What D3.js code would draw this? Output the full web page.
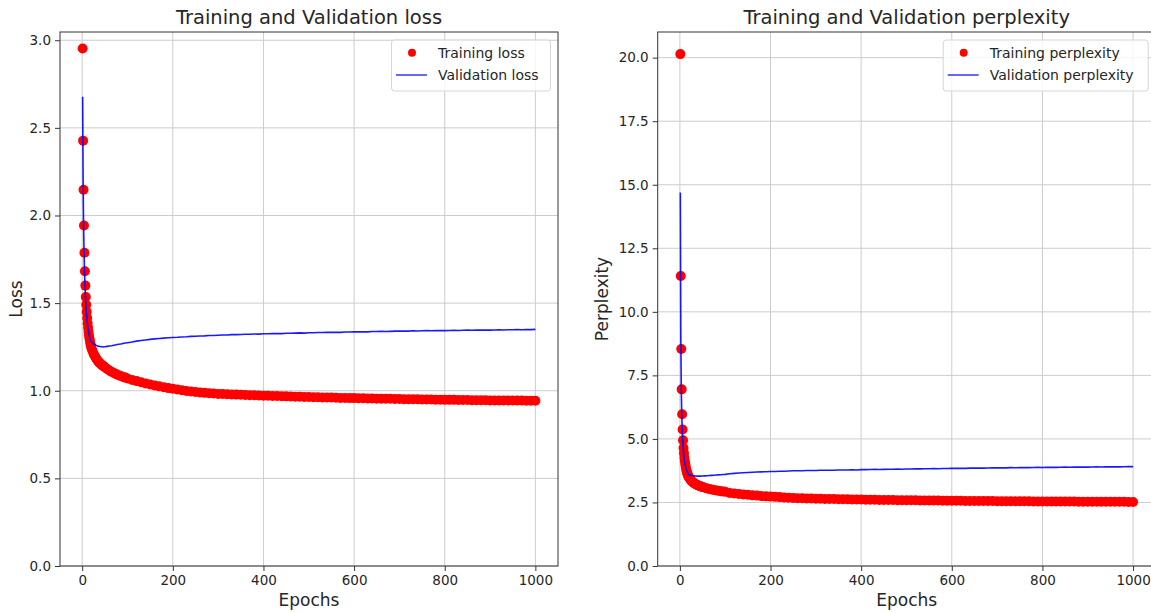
<!DOCTYPE html>
<html>
<head>
<meta charset="utf-8">
<script src="https://cdn.jsdelivr.net/npm/d3@7"></script>
<style>
  html, body { margin: 0; padding: 0; background: #fff; }
  svg { display: block; font-family: "DejaVu Sans", sans-serif; }
</style>
</head>
<body>
<svg id="chart" width="1151" height="613"></svg>
<script>
// Epochs at which values are recorded
const epochs = [
  1,2,3,4,5,6,7,8,9,10,11,12,13,14,15,16,17,18,19,20,
  22,24,26,28,30,32,34,36,38,40,42,44,46,48,50,
  55,60,65,70,75,80,85,90,95,100,
  110,120,130,140,150,160,170,180,190,200,
  210,220,230,240,250,260,270,280,290,300,
  310,320,330,340,350,360,370,380,390,400,
  410,420,430,440,450,460,470,480,490,500,
  510,520,530,540,550,560,570,580,590,600,
  610,620,630,640,650,660,670,680,690,700,
  710,720,730,740,750,760,770,780,790,800,
  810,820,830,840,850,860,870,880,890,900,
  910,920,930,940,950,960,970,980,990,1000
];

const trainLoss = [
  2.953,2.427,2.147,1.943,1.787,1.682,1.600,1.535,1.490,1.450,1.415,1.385,1.360,1.337,1.317,1.300,1.285,1.271,1.258,1.246,
  1.232,1.219,1.207,1.197,1.188,1.180,1.173,1.166,1.160,1.155,1.150,1.146,1.142,1.138,1.134,
  1.124,1.116,1.108,1.101,1.095,1.089,1.084,1.079,1.075,1.070,
  1.062,1.055,1.048,1.042,1.036,1.030,1.025,1.020,1.015,1.011,
  1.007,1.003,0.999,0.996,0.993,0.990,0.988,0.986,0.984,0.982,
  0.981,0.980,0.979,0.978,0.977,0.976,0.975,0.974,0.973,0.972,
  0.971,0.970,0.970,0.969,0.968,0.967,0.966,0.966,0.965,0.964,
  0.963,0.963,0.962,0.961,0.961,0.960,0.959,0.959,0.958,0.958,
  0.957,0.957,0.956,0.956,0.955,0.955,0.954,0.954,0.953,0.953,
  0.952,0.952,0.951,0.951,0.950,0.950,0.950,0.949,0.949,0.948,
  0.948,0.948,0.947,0.947,0.947,0.946,0.946,0.946,0.946,0.945,
  0.945,0.945,0.945,0.944,0.944,0.944,0.944,0.943,0.943,0.943
];

const valLoss = [
  2.678,2.210,1.960,1.805,1.695,1.612,1.548,1.497,1.456,1.423,1.396,1.373,1.354,1.338,1.324,1.312,1.302,1.293,1.285,1.279,
  1.274,1.270,1.266,1.263,1.260,1.258,1.256,1.254,1.253,1.252,1.251,1.251,1.250,1.251,1.251,
  1.253,1.255,1.257,1.260,1.262,1.265,1.267,1.270,1.272,1.274,
  1.278,1.283,1.287,1.290,1.293,1.296,1.298,1.300,1.302,1.304,
  1.305,1.307,1.308,1.310,1.311,1.312,1.313,1.315,1.315,1.317,
  1.318,1.318,1.320,1.320,1.321,1.322,1.322,1.324,1.323,1.325,
  1.325,1.326,1.327,1.326,1.328,1.328,1.329,1.330,1.329,1.331,
  1.331,1.332,1.332,1.333,1.333,1.334,1.333,1.335,1.335,1.336,
  1.336,1.337,1.336,1.338,1.338,1.339,1.338,1.339,1.340,1.340,
  1.341,1.340,1.342,1.341,1.342,1.343,1.342,1.343,1.344,1.343,
  1.344,1.345,1.344,1.345,1.346,1.345,1.346,1.346,1.347,1.346,
  1.347,1.348,1.347,1.348,1.348,1.349,1.348,1.349,1.349,1.350
];

const trainPerplexity = [
  20.14,11.41,8.54,6.95,5.97,5.37,4.95,4.64,4.44,4.26,4.12,4.00,3.90,3.81,3.73,3.67,3.61,3.56,3.52,3.48,
  3.43,3.38,3.34,3.31,3.28,3.25,3.23,3.21,3.19,3.17,3.16,3.15,3.13,3.12,3.11,
  3.08,3.05,3.03,3.01,2.99,2.97,2.96,2.94,2.93,2.92,
  2.87,2.85,2.83,2.81,2.80,2.78,2.77,2.75,2.74,2.73,
  2.72,2.71,2.70,2.69,2.68,2.67,2.665,2.66,2.655,2.65,
  2.645,2.64,2.64,2.635,2.63,2.63,2.625,2.62,2.62,2.615,
  2.61,2.61,2.605,2.60,2.60,2.60,2.595,2.59,2.59,2.59,
  2.585,2.585,2.58,2.58,2.58,2.575,2.575,2.57,2.57,2.57,
  2.565,2.565,2.56,2.56,2.56,2.56,2.555,2.555,2.555,2.55,
  2.55,2.55,2.55,2.545,2.545,2.545,2.545,2.54,2.54,2.54,
  2.54,2.54,2.535,2.535,2.535,2.535,2.535,2.53,2.53,2.53,
  2.53,2.53,2.53,2.525,2.525,2.525,2.525,2.525,2.52,2.52
];

const valPerplexity = [
  14.70,9.12,7.10,6.08,5.45,5.01,4.70,4.47,4.29,4.15,4.04,3.95,3.87,3.81,3.76,3.71,3.68,3.64,3.61,3.59,
  3.58,3.57,3.56,3.555,3.55,3.545,3.54,3.54,3.535,3.535,3.535,3.535,3.535,3.54,3.54,
  3.545,3.55,3.56,3.565,3.57,3.58,3.585,3.59,3.60,3.605,
  3.63,3.645,3.66,3.67,3.68,3.69,3.70,3.705,3.71,3.72,
  3.72,3.73,3.73,3.74,3.745,3.745,3.75,3.755,3.76,3.76,
  3.765,3.765,3.77,3.77,3.775,3.78,3.78,3.785,3.78,3.79,
  3.79,3.795,3.80,3.795,3.80,3.805,3.805,3.81,3.805,3.815,
  3.815,3.82,3.82,3.825,3.825,3.83,3.825,3.835,3.835,3.84,
  3.84,3.845,3.84,3.85,3.85,3.855,3.85,3.855,3.86,3.86,
  3.865,3.86,3.87,3.865,3.87,3.875,3.87,3.875,3.88,3.875,
  3.88,3.885,3.88,3.885,3.89,3.885,3.89,3.89,3.895,3.89,
  3.895,3.90,3.895,3.90,3.90,3.905,3.90,3.905,3.91,3.91
];

const xTicks = [0, 200, 400, 600, 800, 1000];
const lossTicks = [0.0, 0.5, 1.0, 1.5, 2.0, 2.5, 3.0];
const perplexityTicks = [0.0, 2.5, 5.0, 7.5, 10.0, 12.5, 15.0, 17.5, 20.0];

const svg = d3.select("#chart");
const textColor = "#262626";

function drawPanel(opts) {
  const { left, right, top, bottom, yMax, yTicks, train, val, title, yLabel, trainName, valName } = opts;
  const g = svg.append("g");

  const x = d3.scaleLinear().domain([1 - 49.95, 1000 + 49.95]).range([left, right]);
  const y = d3.scaleLinear().domain([0, yMax]).range([bottom, top]);

  // grid
  const grid = g.append("g").attr("stroke", "#cccccc").attr("stroke-width", 1);
  xTicks.forEach(t => grid.append("line")
    .attr("x1", x(t)).attr("x2", x(t)).attr("y1", top).attr("y2", bottom));
  yTicks.forEach(t => grid.append("line")
    .attr("x1", left).attr("x2", right).attr("y1", y(t)).attr("y2", y(t)));

  const clipId = "clip" + Math.round(left);
  g.append("clipPath").attr("id", clipId).append("rect")
    .attr("x", left).attr("y", top).attr("width", right - left).attr("height", bottom - top);

  const plot = g.append("g").attr("clip-path", `url(#${clipId})`);

  // training markers
  plot.append("g").selectAll("circle").data(epochs)
    .join("circle")
    .attr("cx", d => x(d))
    .attr("cy", (d, i) => y(train[i]))
    .attr("r", 5)
    .attr("fill", "#ff0000");

  // validation line
  const line = d3.line().x(d => x(d)).y((d, i) => y(val[i]));
  plot.append("path").datum(epochs)
    .attr("d", line)
    .attr("fill", "none")
    .attr("stroke", "#0000ff")
    .attr("stroke-opacity", 0.9)
    .attr("stroke-width", 1.6);

  // axes
  const xAxis = d3.axisBottom(x).tickValues(xTicks).tickSize(5).tickPadding(4).tickFormat(d3.format("d"));
  const yAxis = d3.axisLeft(y).tickValues(yTicks).tickSize(5).tickPadding(4).tickFormat(d3.format(".1f"));

  const gx = g.append("g").attr("transform", `translate(0,${bottom})`).call(xAxis);
  const gy = g.append("g").attr("transform", `translate(${left},0)`).call(yAxis);
  [gx, gy].forEach(a => {
    a.select(".domain").remove();
    a.selectAll(".tick line").attr("stroke", "#333").attr("stroke-width", 1);
    a.selectAll(".tick text").attr("fill", textColor).attr("font-size", "13.5px")
      .attr("font-family", "DejaVu Sans, sans-serif");
  });

  // frame
  g.append("rect").attr("x", left).attr("y", top)
    .attr("width", right - left).attr("height", bottom - top)
    .attr("fill", "none").attr("stroke", "#333").attr("stroke-width", 1);

  // title and labels
  const cx = (left + right) / 2;
  g.append("text").attr("x", cx).attr("y", 24).attr("text-anchor", "middle")
    .attr("font-size", "19.5px").attr("fill", textColor).text(title);
  g.append("text").attr("x", cx).attr("y", 606).attr("text-anchor", "middle")
    .attr("font-size", "17px").attr("fill", textColor).text("Epochs");
  g.append("text").attr("transform", `translate(${opts.yLabelX},${(top + bottom) / 2}) rotate(-90)`)
    .attr("text-anchor", "middle").attr("font-size", "17px").attr("fill", textColor).text(yLabel);

  // legend
  const lx = right - 7.5 - 159;
  const ly = top + 8;
  const leg = g.append("g");
  leg.append("rect").attr("x", lx).attr("y", ly).attr("width", opts.legendWidth).attr("height", 51)
    .attr("rx", 3).attr("fill", "#fff").attr("fill-opacity", 0.8)
    .attr("stroke", "#d6d6d6").attr("stroke-width", 1);
  leg.attr("transform", `translate(${159 - opts.legendWidth},0)`);
  leg.append("circle").attr("cx", lx + 20.5).attr("cy", ly + 12.7).attr("r", 4).attr("fill", "#ff0000");
  leg.append("line").attr("x1", lx + 4.5).attr("x2", lx + 35.5).attr("y1", ly + 35).attr("y2", ly + 35)
    .attr("stroke", "#0000ff").attr("stroke-opacity", 0.75).attr("stroke-width", 1.6);
  leg.append("text").attr("x", lx + 46.5).attr("y", ly + 17.5).attr("font-size", "14px")
    .attr("fill", textColor).text(trainName);
  leg.append("text").attr("x", lx + 46.5).attr("y", ly + 40).attr("font-size", "14px")
    .attr("fill", textColor).text(valName);
}

drawPanel({
  left: 60, right: 558, top: 32, bottom: 566, yMax: 3.047, yTicks: lossTicks,
  train: trainLoss, val: valLoss,
  title: "Training and Validation loss", yLabel: "Loss", yLabelX: 22,
  trainName: "Training loss", valName: "Validation loss", legendWidth: 159
});

drawPanel({
  left: 657.7, right: 1155.7, top: 32, bottom: 566, yMax: 21.01, yTicks: perplexityTicks,
  train: trainPerplexity, val: valPerplexity,
  title: "Training and Validation perplexity", yLabel: "Perplexity", yLabelX: 608,
  trainName: "Training perplexity", valName: "Validation perplexity", legendWidth: 205
});
</script>
</body>
</html>
